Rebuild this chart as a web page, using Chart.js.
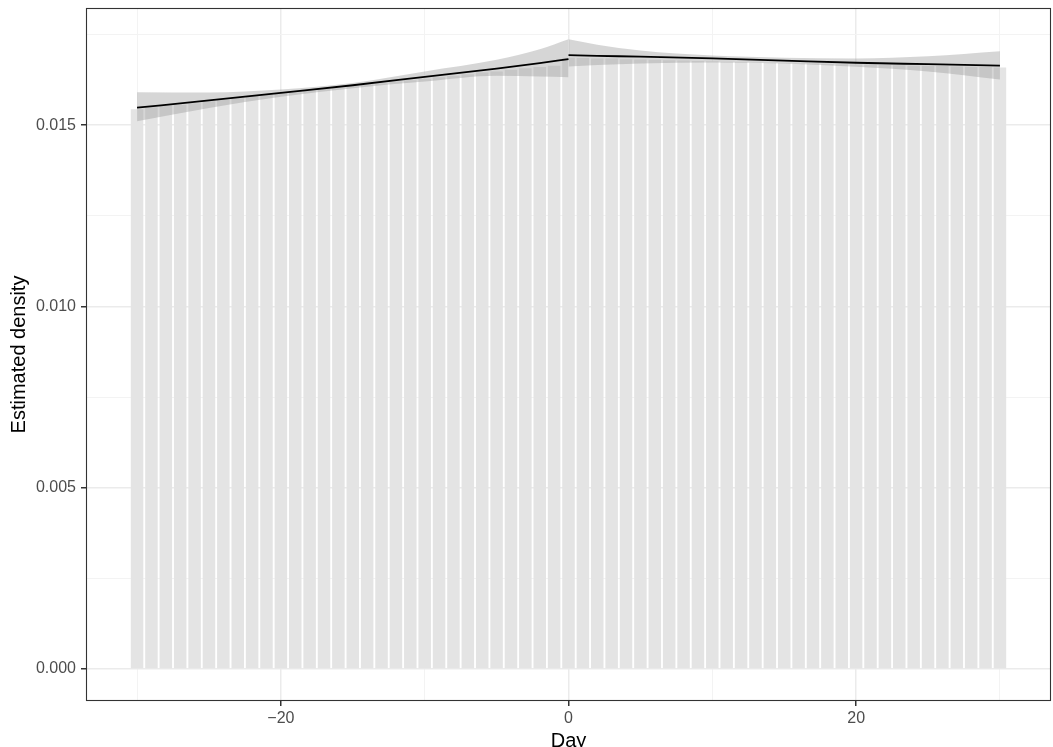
<!DOCTYPE html>
<html>
<head>
<meta charset="utf-8">
<script src="https://cdn.jsdelivr.net/npm/chart.js@4.4.1/dist/chart.umd.min.js"></script>
<style>
  html, body { margin: 0; padding: 0; background: #ffffff; }
  #wrap { width: 1053px; height: 747px; position: relative; }
</style>
</head>
<body>
<div id="wrap"><canvas id="c" width="1053" height="747"></canvas></div>
<script>
// ---- data ----
const days = [-30,-29,-28,-27,-26,-25,-24,-23,-22,-21,-20,-19,-18,-17,-16,-15,-14,-13,-12,-11,-10,-9,-8,-7,-6,-5,-4,-3,-2,-1,
  0,1,2,3,4,5,6,7,8,9,10,11,12,13,14,15,16,17,18,19,20,21,22,23,24,25,26,27,28,29,30];
const density = [0.01544,0.01549,0.01555,0.01556,0.01560,0.01566,0.01570,0.01574,0.01580,0.01583,
  0.01588,0.01590,0.01595,0.01600,0.01602,0.01607,0.01612,0.01615,0.01620,0.01624,
  0.01628,0.01632,0.01636,0.01640,0.01645,0.01648,0.01653,0.01657,0.01660,0.01664,
  0.01686,0.01685,0.01684,0.01684,0.01682,0.01681,0.01680,0.01679,0.01678,0.01677,
  0.01676,0.01675,0.01674,0.01673,0.01672,0.01671,0.01670,0.01670,0.01669,0.01668,
  0.01667,0.01667,0.01666,0.01665,0.01664,0.01664,0.01663,0.01662,0.01661,0.01660,0.01659];

const leftX     = [-30, -25, -20, -15, -10, -5, -2, 0];
const leftFit   = [0.01548,0.01568,0.01589,0.01610,0.01633,0.01656,0.01671,0.01682];
const leftUpper = [0.01591,0.01590,0.01598,0.01616,0.01648,0.01680,0.01709,0.01737];
const leftLower = [0.01511,0.01547,0.01578,0.01602,0.01620,0.01636,0.01634,0.01632];

const rightX     = [0, 2, 5, 10, 15, 20, 25, 30];
const rightFit   = [0.01693,0.01691,0.01689,0.01684,0.01678,0.01672,0.01668,0.01664];
const rightUpper = [0.01737,0.01722,0.01706,0.01692,0.01686,0.01684,0.01690,0.01704];
const rightLower = [0.01662,0.01666,0.01670,0.01673,0.01670,0.01661,0.01648,0.01626];

const xTickValues = [-20, 0, 20];
const xTickLabels = ['\u221220', '0', '20'];
const xMinorValues = [-30, -10, 10, 30];
const yTickValues = [0, 0.005, 0.010, 0.015];
const yTickLabels = ['0.000', '0.005', '0.010', '0.015'];
const yMinorValues = [0.0025, 0.0075, 0.0125, 0.0175];
const xTitle = 'Day';
const yTitle = 'Estimated density';

// ---- build ----
const pts = (xs, ys) => xs.map((x, i) => ({ x: x, y: ys[i] }));
const RIBBON = 'rgba(153,153,153,0.4)';
const FONT = '"Liberation Sans", Arial, Helvetica, sans-serif';

const lineBase = { type: 'line', pointRadius: 0, borderWidth: 0, tension: 0.3, cubicInterpolationMode: 'monotone' };

const datasets = [
  { type: 'bar', data: pts(days, density), backgroundColor: '#e4e4e4', borderWidth: 0,
    barPercentage: 0.87, categoryPercentage: 1.0, order: 3 },
  Object.assign({}, lineBase, { data: pts(leftX, leftUpper), borderColor: 'rgba(0,0,0,0)', fill: 2, backgroundColor: RIBBON, order: 2 }),
  Object.assign({}, lineBase, { data: pts(leftX, leftLower), borderColor: 'rgba(0,0,0,0)', fill: false, order: 2 }),
  Object.assign({}, lineBase, { data: pts(rightX, rightUpper), borderColor: 'rgba(0,0,0,0)', fill: 4, backgroundColor: RIBBON, order: 2 }),
  Object.assign({}, lineBase, { data: pts(rightX, rightLower), borderColor: 'rgba(0,0,0,0)', fill: false, order: 2 }),
  Object.assign({}, lineBase, { data: pts(leftX, leftFit), borderColor: '#000000', borderWidth: 1.8, fill: false, order: 1 }),
  Object.assign({}, lineBase, { data: pts(rightX, rightFit), borderColor: '#000000', borderWidth: 1.8, fill: false, order: 1 })
];

const xAll = xTickValues.concat(xMinorValues).sort((a, b) => a - b);
const yAll = yTickValues.concat(yMinorValues).sort((a, b) => a - b);
const isMajX = (c) => !!(c && c.tick) && xTickValues.includes(c.tick.value);
const isMajY = (c) => !!(c && c.tick) && yTickValues.some(t => Math.abs(t - c.tick.value) < 1e-9);

const framePlugin = {
  id: 'frame',
  afterDraw(chart) {
    const { ctx, chartArea: a } = chart;
    ctx.save();
    ctx.strokeStyle = '#333333';
    ctx.lineWidth = 1.1;
    ctx.strokeRect(a.left + 0.5, a.top + 0.5, a.right - a.left - 1, a.bottom - a.top - 1);
    ctx.fillStyle = '#000000';
    ctx.font = '20px ' + FONT;
    ctx.textAlign = 'center';
    ctx.textBaseline = 'alphabetic';
    ctx.fillText(xTitle, (a.left + a.right) / 2, 747);
    ctx.translate(25, (a.top + a.bottom) / 2);
    ctx.rotate(-Math.PI / 2);
    ctx.fillText(yTitle, 0, 0);
    ctx.restore();
  }
};

new Chart(document.getElementById('c'), {
  type: 'bar',
  data: { datasets: datasets },
  plugins: [framePlugin],
  options: {
    responsive: false,
    animation: false,
    events: [],
    layout: { padding: { top: 8, right: 2, left: 0, bottom: 0 } },
    plugins: { legend: { display: false }, tooltip: { enabled: false } },
    scales: {
      x: {
        type: 'linear', min: -33.55, max: 33.55, offset: false,
        afterBuildTicks: (s) => { s.ticks = xAll.map(v => ({ value: v })); },
        afterFit: (s) => { s.height = 46; s.paddingLeft = 0; s.paddingRight = 0; },
        grid: {
          offset: false,
          color: (c) => isMajX(c) ? '#ebebeb' : '#f3f3f3',
          lineWidth: (c) => isMajX(c) ? 1.5 : 1,
          tickColor: (c) => isMajX(c) ? '#333333' : 'rgba(0,0,0,0)',
          tickLength: 5
        },
        border: { display: false },
        ticks: {
          autoSkip: false, maxRotation: 0, padding: 3, color: '#4d4d4d',
          font: { family: FONT, size: 16 },
          callback: (v) => { const i = xTickValues.indexOf(v); return i >= 0 ? xTickLabels[i] : ''; }
        }
      },
      y: {
        type: 'linear', min: -0.00088, max: 0.01823,
        afterBuildTicks: (s) => { s.ticks = yAll.map(v => ({ value: v })); },
        afterFit: (s) => { s.width = 86; s.paddingTop = 0; s.paddingBottom = 0; },
        grid: {
          offset: false,
          color: (c) => isMajY(c) ? '#ebebeb' : '#f3f3f3',
          lineWidth: (c) => isMajY(c) ? 1.5 : 1,
          tickColor: (c) => isMajY(c) ? '#333333' : 'rgba(0,0,0,0)',
          tickLength: 5
        },
        border: { display: false },
        ticks: {
          autoSkip: false, padding: 5, color: '#4d4d4d',
          font: { family: FONT, size: 16 },
          callback: (v) => { const i = yTickValues.findIndex(t => Math.abs(t - v) < 1e-9); return i >= 0 ? yTickLabels[i] : ''; }
        }
      }
    }
  }
});
</script>
</body>
</html>
